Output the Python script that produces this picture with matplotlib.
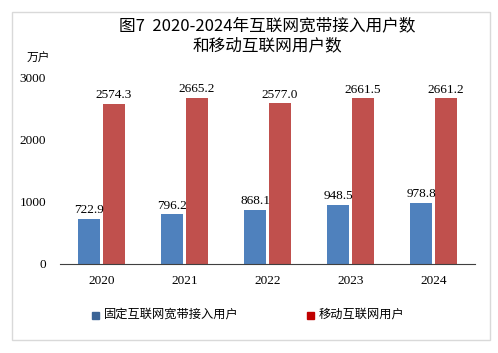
import numpy as np
import matplotlib
matplotlib.use("Agg")
import matplotlib.pyplot as plt
from matplotlib.patches import Rectangle

plt.rcParams['font.family'] = ['Noto Sans CJK SC', 'DejaVu Sans']

years = ["2020", "2021", "2022", "2023", "2024"]
fixed_broadband = [722.9, 796.2, 868.1, 948.5, 978.8]
mobile_internet = [2574.3, 2665.2, 2577.0, 2661.5, 2661.2]
series_names = ["固定互联网宽带接入用户", "移动互联网用户"]
yticks = [0, 1000, 2000, 3000]

W, H = 498, 353
fig = plt.figure(figsize=(W / 100, H / 100), dpi=100)
fig.patches.append(Rectangle((12 / W, 1 - 340 / H), 478 / W, 328 / H,
                             transform=fig.transFigure, fill=False,
                             edgecolor="#d9d9d9", linewidth=1))

ax = fig.add_axes([60 / W, 1 - 264 / H, 415 / W, 187 / H])
x = np.arange(len(years))
bw = 0.265
gap = 0.035
b1 = ax.bar(x - (bw + gap) / 2, fixed_broadband, bw, color="#4F81BD")
b2 = ax.bar(x + (bw + gap) / 2, mobile_internet, bw, color="#C0504D")

serif = "Liberation Serif"
for bars, vals in ((b1, fixed_broadband), (b2, mobile_internet)):
    for r, v in zip(bars, vals):
        ax.text(r.get_x() + r.get_width() / 2, v + 40, f"{v:.1f}",
                ha="center", va="bottom", fontsize=9.5, family=serif)

ax.set_xlim(-0.5, len(years) - 0.5)
ax.set_ylim(0, 3000)
ax.set_xticks(x)
ax.set_xticklabels(years, family=serif, fontsize=9.5)
ax.set_yticks(yticks)
ax.set_yticklabels([str(t) for t in yticks], family=serif, fontsize=9.5)
ax.tick_params(length=0)
ax.tick_params(axis="x", pad=8)
ax.tick_params(axis="y", pad=10)
for s in ("top", "right", "left"):
    ax.spines[s].set_visible(False)
ax.spines["bottom"].set_color("#404040")

fig.text(267 / W, 1 - 26 / H, "图7  2020-2024年互联网宽带接入用户数",
         ha="center", va="center", fontsize=12, weight="medium")
fig.text(267 / W, 1 - 46 / H, "和移动互联网用户数",
         ha="center", va="center", fontsize=12, weight="medium")
fig.text(27 / W, 1 - 58 / H, "万户", ha="left", va="center", fontsize=8.5)

# legend
for sx, tx, c, name in ((92, 104, "#3B6496", series_names[0]),
                        (307, 319, "#C00000", series_names[1])):
    fig.patches.append(Rectangle((sx / W, 1 - 319 / H), 7 / W, 7 / H,
                                 transform=fig.transFigure, color=c))
    fig.text(tx / W, 1 - 314 / H, name, ha="left", va="center", fontsize=8.8)

fig.savefig("out.png", dpi=100)
